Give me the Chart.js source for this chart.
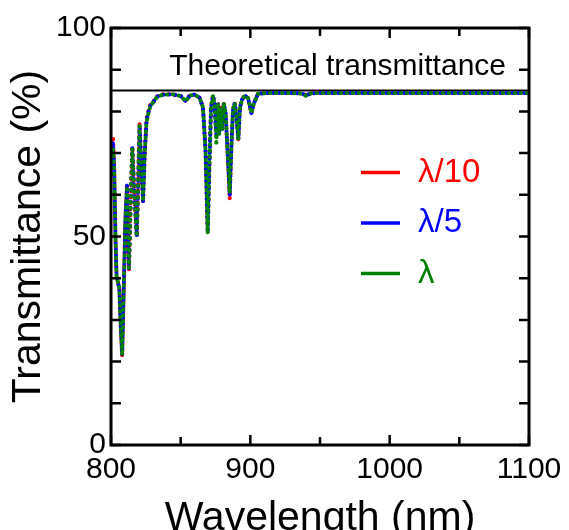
<!DOCTYPE html>
<html>
<head>
<meta charset="utf-8">
<script src="https://cdn.jsdelivr.net/npm/chart.js@4/dist/chart.umd.min.js"></script>
<style>
  html, body { margin: 0; padding: 0; background: #fff; overflow: hidden; }
  #wrap { width: 569px; height: 545px; }
</style>
</head>
<body>
<div id="wrap"><canvas id="c" width="569" height="545"></canvas></div>
<script>
// ---- data ----
const wavelengths = [800, 800.8, 801.5, 802.3, 803.2, 804, 805, 806, 806.8, 808, 809.2, 810.3, 811.5, 812.2, 812.9, 814, 815.3, 816.5, 818.5, 819.5, 820.5, 821.8, 823, 824.2, 825.5, 827, 828.5, 830.5, 833, 837, 844, 850, 853.5, 856.5, 860, 863.5, 866, 867.8, 869.4, 870.6, 871.8, 873.2, 874.4, 875.6, 876.8, 877.6, 878.5, 879.7, 880.9, 882.3, 883.5, 885.2, 886.4, 887.6, 888.8, 890, 891.4, 892.6, 894, 896, 898.4, 900.8, 902.4, 905.5, 911, 920, 930, 937, 940, 943, 947, 950, 960, 970, 980, 990, 1000, 1020, 1040, 1060, 1080, 1100];

const lambda10 = [65, 71, 73.5, 67, 50, 40.5, 39, 37.5, 30, 21.5, 38, 54, 62.5, 52, 42, 57, 71.5, 62, 50, 63, 77, 67, 58.5, 70, 78, 80.2, 81.8, 82.4, 83.6, 84.1, 84.1, 83.7, 82.6, 83.8, 84.0, 83.3, 81, 71, 51, 67, 81, 83.9, 81.5, 75.5, 82, 75.5, 81, 76, 82, 79.5, 71, 59, 71.5, 80.5, 82, 78.8, 73.3, 81, 82.8, 83.8, 83.2, 79.6, 81.8, 84.2, 84.4, 84.4, 84.4, 84.3, 83.9, 84.3, 84.6, 84.4, 84.4, 84.4, 84.4, 84.4, 84.4, 84.4, 84.4, 84.4, 84.4, 84.4];
const lambda5  = [64.5, 70.5, 72.5, 66.5, 50, 40.5, 39, 37.5, 30, 21.5, 38, 54, 62.2, 52, 42.3, 57, 71.2, 62, 50, 63, 76.8, 67, 58.5, 70, 77.8, 80, 81.6, 82.3, 83.5, 84.0, 84.1, 83.7, 82.5, 83.8, 84.0, 83.3, 81, 71, 50.9, 67, 81, 83.8, 81.5, 74.5, 82, 75, 81, 75.8, 82, 79.5, 71.3, 59.8, 71.5, 80.5, 82, 78.8, 73.3, 81, 82.8, 83.8, 83.2, 79.6, 81.8, 84.2, 84.4, 84.4, 84.4, 84.3, 83.8, 84.3, 84.4, 84.4, 84.4, 84.4, 84.4, 84.4, 84.4, 84.4, 84.4, 84.4, 84.4, 84.4];
const lambda1  = [64, 70, 71.5, 66, 50, 40.5, 39, 37.5, 30, 21.5, 38, 54, 62, 52, 42.5, 57, 71, 62, 50, 63, 76.5, 67, 58.5, 70, 77.5, 79.8, 81.5, 82.2, 83.5, 84.0, 84.1, 83.7, 82.4, 83.8, 84.0, 83.3, 81, 71, 50.8, 67, 81, 83.8, 81.5, 72.5, 82, 74.5, 81, 75.5, 82, 79.5, 71.5, 60.5, 71.5, 80.5, 82, 78.8, 73.3, 81, 82.8, 83.8, 83.2, 79.6, 81.8, 84.2, 84.4, 84.4, 84.4, 84.3, 83.7, 84.3, 84.4, 84.4, 84.4, 84.4, 84.4, 84.4, 84.4, 84.4, 84.4, 84.4, 84.4, 84.4];

const theoryX = [800, 1100];
const theoryY = [85, 85];
const theoryLabel = 'Theoretical transmittance';

const seriesLabels = ['\u03bb/10', '\u03bb/5', '\u03bb'];
const seriesColors = ['#ff0000', '#0000ff', '#008000'];

const xTickValues = [800, 850, 900, 950, 1000, 1050, 1100];
const yTickValues = [0, 10, 20, 30, 40, 50, 60, 70, 80, 90, 100];
const xLabelValues = [800, 900, 1000, 1100];
const yLabelValues = [0, 50, 100];

// ---- helpers ----
const FONT = "'Liberation Sans', Arial, sans-serif";
const toXY = (xs, ys) => xs.map((x, i) => ({ x: x, y: ys[i] }));

Chart.defaults.color = '#000';
Chart.defaults.font.family = FONT;

const frameTicks = {
  id: 'frameTicks',
  afterDraw(chart) {
    const { ctx, chartArea: a, scales: { x, y } } = chart;
    ctx.save();
    ctx.strokeStyle = '#000';
    ctx.lineWidth = 2.5;
    ctx.beginPath();
    xTickValues.forEach(v => {
      const px = x.getPixelForValue(v);
      const len = xLabelValues.includes(v) ? 10 : 8;
      ctx.moveTo(px, a.bottom); ctx.lineTo(px, a.bottom - len);
      ctx.moveTo(px, a.top); ctx.lineTo(px, a.top + len);
    });
    yTickValues.forEach(v => {
      const py = y.getPixelForValue(v);
      ctx.moveTo(a.left, py); ctx.lineTo(a.left + 10, py);
      ctx.moveTo(a.right, py); ctx.lineTo(a.right - 10, py);
    });
    ctx.stroke();
    ctx.lineWidth = 3;
    ctx.strokeRect(a.left, a.top, a.right - a.left, a.bottom - a.top);

    // theoretical label
    ctx.fillStyle = '#000';
    ctx.font = '30px ' + FONT;
    ctx.textAlign = 'right';
    ctx.textBaseline = 'alphabetic';
    ctx.fillText(theoryLabel, a.right - 23, y.getPixelForValue(theoryY[0]) - 15.5);

    // legend
    ctx.font = '33px ' + FONT;
    ctx.textAlign = 'left';
    ctx.textBaseline = 'middle';
    ctx.lineWidth = 3.5;
    seriesLabels.forEach((lab, i) => {
      const ly = a.top + 144.5 + i * 50.5;
      ctx.strokeStyle = seriesColors[i];
      ctx.beginPath();
      ctx.moveTo(a.left + 250, ly); ctx.lineTo(a.left + 289, ly);
      ctx.stroke();
      ctx.fillStyle = seriesColors[i];
      ctx.fillText(lab, a.left + 307, ly);
    });
    ctx.restore();
  }
};

const seriesData = [lambda10, lambda5, lambda1];
const datasets = seriesData.map((vals, i) => ({
  label: seriesLabels[i],
  data: toXY(wavelengths, vals),
  borderColor: seriesColors[i],
  borderWidth: 4,
  borderDash: [0.5, 5.5],
  borderDashOffset: -2 * i,
  borderCapStyle: 'round',
  borderJoinStyle: 'round',
  pointRadius: 0,
  tension: 0,
  fill: false,
  order: 3 - i
}));
datasets.push({
  label: theoryLabel,
  data: toXY(theoryX, theoryY),
  borderColor: '#000',
  borderWidth: 2,
  pointRadius: 0,
  fill: false,
  order: 4
});

new Chart(document.getElementById('c'), {
  type: 'line',
  data: { datasets },
  plugins: [frameTicks],
  options: {
    responsive: false,
    animation: false,
    events: [],
    layout: { padding: { top: 28, right: 40, left: 0, bottom: 0 } },
    plugins: { legend: { display: false }, tooltip: { enabled: false } },
    scales: {
      x: {
        type: 'linear', min: 800, max: 1100,
        grid: { display: false, drawTicks: false }, border: { display: false },
        ticks: {
          stepSize: 50, autoSkip: false, maxRotation: 0, padding: 7,
          font: { size: 30 },
          callback: v => (xLabelValues.includes(v) ? String(v) : '')
        },
        title: { display: true, text: 'Wavelength (nm)', font: { size: 41 }, padding: { top: 0, bottom: 2 } },
        afterFit: s => { s.height = 100; }
      },
      y: {
        type: 'linear', min: 0, max: 100,
        grid: { display: false, drawTicks: false }, border: { display: false },
        ticks: {
          stepSize: 10, autoSkip: false, padding: 5,
          font: { size: 30 },
          callback: v => (yLabelValues.includes(v) ? String(v) : '')
        },
        title: { display: true, text: 'Transmittance (%)', font: { size: 41 }, padding: { top: 4, bottom: 0 } },
        afterFit: s => { s.width = 111; }
      }
    }
  }
});
</script>
</body>
</html>
